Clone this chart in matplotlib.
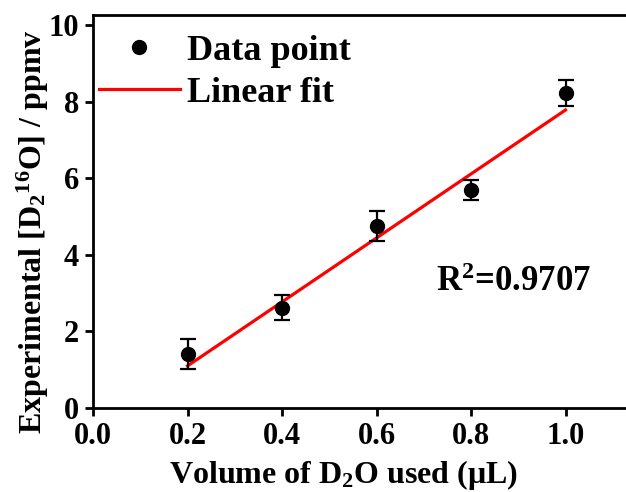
import matplotlib
matplotlib.use("Agg")
import matplotlib.pyplot as plt
from matplotlib.lines import Line2D
import numpy as np

# Data
volume = [0.2, 0.4, 0.6, 0.8, 1.0]
conc = [1.41, 2.62, 4.76, 5.70, 8.23]
conc_err = [0.39, 0.32, 0.39, 0.27, 0.33]
fit_slope = 8.36
fit_intercept = -0.572
r2_text = "0.9707"
xticks = [0.0, 0.2, 0.4, 0.6, 0.8, 1.0]
yticks = [0, 2, 4, 6, 8, 10]

plt.rcParams['font.family'] = 'Liberation Serif'
plt.rcParams['font.weight'] = 'bold'
plt.rcParams['mathtext.fontset'] = 'custom'
plt.rcParams['mathtext.rm'] = 'Liberation Serif:bold'
plt.rcParams['mathtext.bf'] = 'Liberation Serif:bold'
plt.rcParams['mathtext.it'] = 'Liberation Serif:bold'
plt.rcParams['mathtext.default'] = 'rm'

fig = plt.figure(figsize=(6.26, 4.92), dpi=100)
ax = fig.add_axes([93/626, 84/492, 1 - 93/626, (408-15)/492])

ax.errorbar(volume, conc, yerr=conc_err, fmt='o', color='black', markersize=10,
            elinewidth=1.6, capsize=5.5, capthick=1.6, zorder=3)
xf = np.array([volume[0], volume[-1]])
ax.plot(xf, fit_slope * xf + fit_intercept, color='#ff0000', lw=2.3, zorder=2)

ax.set_xlim(0, 1.128)
ax.set_ylim(0, 10.27)
ax.set_xticks(xticks)
ax.set_xticklabels([f"{t:.1f}" for t in xticks])
ax.set_yticks(yticks)
ax.tick_params(direction='out', length=6, width=2, labelsize=22, pad=4)
for s in ['left', 'bottom', 'top']:
    ax.spines[s].set_linewidth(2)
ax.spines['right'].set_visible(False)

ax.set_xlabel('Volume of D$_2$O used (μL)', fontsize=23, fontweight='bold')
ax.xaxis.set_label_coords(0.471, -0.127)
ax.set_ylabel('Experimental [D$_2$$^{16}$O] / ppmv', fontsize=23, fontweight='bold')
ax.yaxis.set_label_coords(-0.079, 0.45)

handles = [Line2D([], [], marker='o', ls='none', color='black', markersize=10),
           Line2D([], [], color='#ff0000', lw=2.3)]
ax.legend(handles, ['Data point', 'Linear fit'], loc='upper left',
          bbox_to_anchor=(0.011, 0.95), frameon=False, fontsize=26,
          handlelength=2.24, handletextpad=0.19, labelspacing=0.24,
          borderpad=0, borderaxespad=0)

ax.text(0.644, 0.298, 'R$^2$=' + r2_text, transform=ax.transAxes,
        fontsize=25, fontweight='bold', va='baseline', ha='left')

fig.savefig('out.png', dpi=100)
